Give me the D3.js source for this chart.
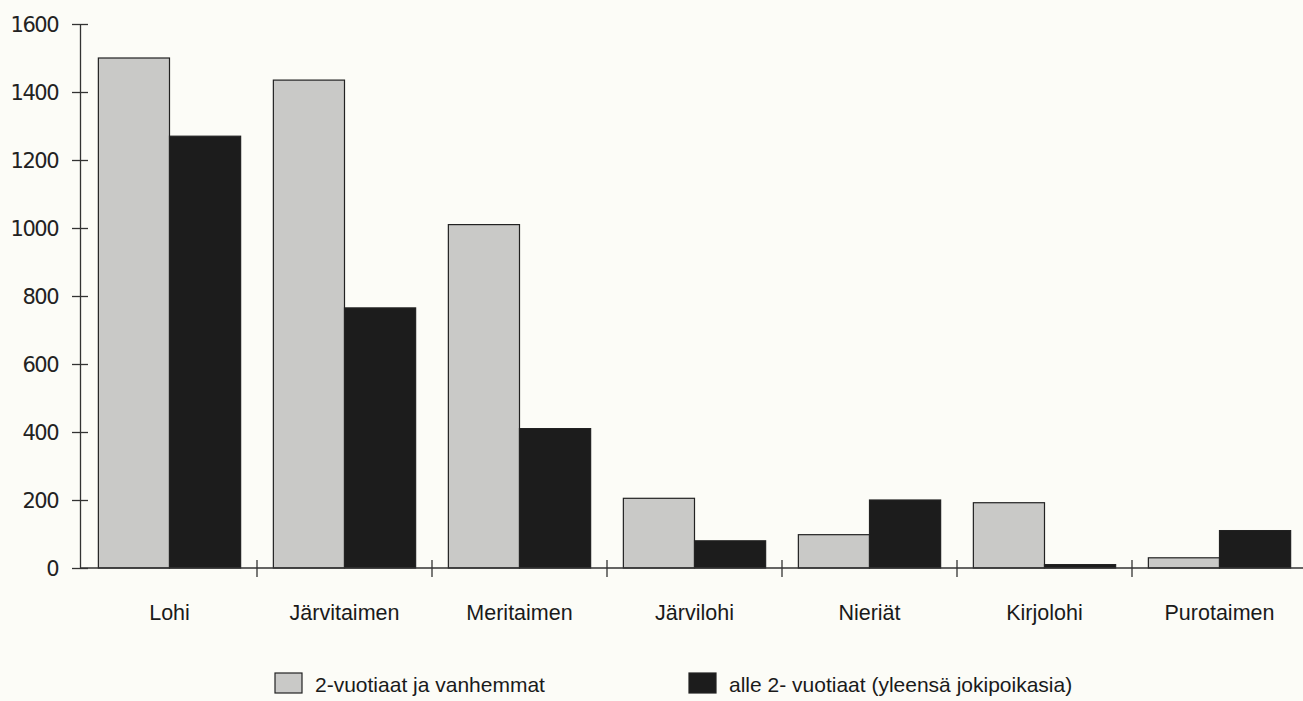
<!DOCTYPE html>
<html>
<head>
<meta charset="utf-8">
<script src="https://cdn.jsdelivr.net/npm/d3@7"></script>
<style>
  body { margin: 0; background: #fcfcf7; }
  svg { display: block; }
</style>
</head>
<body>
<svg id="chart"></svg>
<script>
const categories = ['Lohi', 'Järvitaimen', 'Meritaimen', 'Järvilohi', 'Nieriät', 'Kirjolohi', 'Purotaimen'];
const seriesNames = ['2-vuotiaat ja vanhemmat', 'alle 2- vuotiaat (yleensä jokipoikasia)'];
const olderValues = [1500, 1435, 1010, 205, 98, 192, 30];
const youngerValues = [1270, 765, 410, 80, 200, 10, 110];
const yTicks = [0, 200, 400, 600, 800, 1000, 1200, 1400, 1600];

const width = 1303;
const height = 701;
const margin = {top: 24, right: -4, bottom: 133, left: 80};

const fills = ['#c9c9c7', '#1c1c1c'];
const labelFont = '"Liberation Sans", Arial, sans-serif';

const svg = d3.select('#chart')
  .attr('width', width)
  .attr('height', height);

const x = d3.scaleBand()
  .domain(categories)
  .range([margin.left + 2, width - margin.right])
  .paddingInner(0)
  .paddingOuter(0);

// two bars of ~71px inside each 175px category
const x1 = d3.scaleBand()
  .domain([0, 1])
  .range([0, x.bandwidth()])
  .paddingOuter(0.23)
  .paddingInner(0);

const y = d3.scaleLinear()
  .domain([0, 1600])
  .range([height - margin.bottom, margin.top]);

const rows = categories.map((c, i) => ({cat: c, values: [olderValues[i], youngerValues[i]]}));

// bars
const groups = svg.append('g')
  .selectAll('g')
  .data(rows)
  .join('g')
  .attr('transform', d => `translate(${x(d.cat)},0)`);

groups.selectAll('rect')
  .data(d => d.values.map((v, k) => ({k, v})))
  .join('rect')
  .attr('x', d => x1(d.k))
  .attr('y', d => y(d.v))
  .attr('width', x1.bandwidth())
  .attr('height', d => y(0) - y(d.v))
  .attr('fill', d => fills[d.k])
  .attr('stroke', '#222')
  .attr('stroke-width', 1.2);

// y axis
const yAxis = svg.append('g')
  .attr('transform', `translate(${margin.left},0)`)
  .call(d3.axisLeft(y).tickValues(yTicks).tickFormat(d3.format('d')).tickSize(8).tickSizeOuter(0));
yAxis.selectAll('.tick line').attr('x2', 8).attr('x1', -8);
yAxis.select('.domain').attr('stroke', '#333').attr('stroke-width', 1.3);
yAxis.selectAll('.tick line').attr('stroke', '#333').attr('stroke-width', 1.3);
yAxis.selectAll('.tick text')
  .attr('x', -22)
  .attr('dy', '0.36em')
  .style('font-family', '"DejaVu Sans", sans-serif')
  .style('font-size', '21px')
  .style('letter-spacing', '-1.5px')
  .attr('fill', '#222');

// x axis line + category separators
const xAxisG = svg.append('g')
  .attr('transform', `translate(0,${y(0)})`);
xAxisG.append('line')
  .attr('x1', margin.left)
  .attr('x2', width)
  .attr('stroke', '#333')
  .attr('stroke-width', 1.3);
xAxisG.selectAll('line.sep')
  .data(categories.slice(1))
  .join('line')
  .attr('class', 'sep')
  .attr('x1', d => x(d))
  .attr('x2', d => x(d))
  .attr('y1', -8)
  .attr('y2', 9)
  .attr('stroke', '#333')
  .attr('stroke-width', 1.3);

xAxisG.selectAll('text')
  .data(categories)
  .join('text')
  .attr('x', d => x(d) + x.bandwidth() / 2)
  .attr('y', 52)
  .attr('text-anchor', 'middle')
  .style('font-family', labelFont)
  .style('font-size', '21.5px')
  .attr('fill', '#1a1a1a')
  .text(d => d);

// legend
const legendX = [275, 689];
const legend = svg.append('g')
  .selectAll('g')
  .data(seriesNames)
  .join('g')
  .attr('transform', (d, i) => `translate(${legendX[i]},673)`);

legend.append('rect')
  .attr('width', 27)
  .attr('height', 20)
  .attr('fill', (d, i) => fills[i])
  .attr('stroke', '#222')
  .attr('stroke-width', 1.2);

legend.append('text')
  .attr('x', 40)
  .attr('y', 19)
  .style('font-family', labelFont)
  .style('font-size', '21px')
  .attr('fill', '#1a1a1a')
  .text(d => d);
</script>
</body>
</html>
